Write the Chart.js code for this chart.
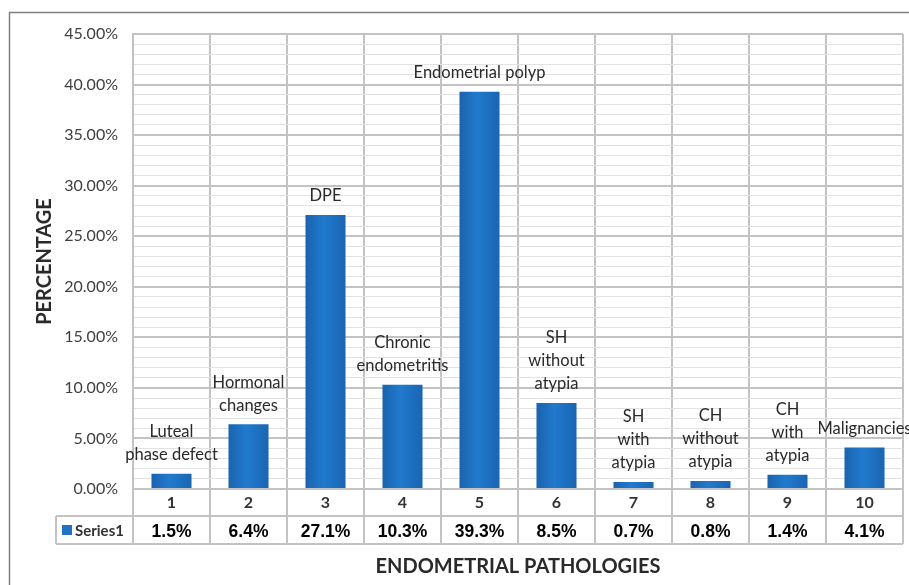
<!DOCTYPE html>
<html>
<head>
<meta charset="utf-8">
<script src="https://cdn.jsdelivr.net/npm/chart.js@4/dist/chart.umd.min.js"></script>
<style>
  html, body { margin: 0; padding: 0; background: #fff; }
  canvas { display: block; }
</style>
</head>
<body>
<canvas id="pathChart" width="909" height="585"></canvas>
<script>
// categories shown on the x axis and in the data table
const categories = ['1', '2', '3', '4', '5', '6', '7', '8', '9', '10'];
// percentage of cases per pathology
const percentages = [1.5, 6.4, 27.1, 10.3, 39.3, 8.5, 0.7, 0.8, 1.4, 4.1];
// text shown above each bar (one entry per line)
const barNames = [
    ['Luteal', 'phase defect'],
    ['Hormonal', 'changes'],
    ['DPE'],
    ['Chronic', 'endometritis'],
    ['Endometrial polyp'],
    ['SH', 'without', 'atypia'],
    ['SH', 'with', 'atypia'],
    ['CH', 'without', 'atypia'],
    ['CH', 'with', 'atypia'],
    ['Malignancies']
];
const seriesName = 'Series1';
const yMax = 45;
const yMajorStep = 5;

const barColor = '#1f72c4';
const barPct = 0.52;
const gridMajor = '#c3c3c3';
const gridMinor = '#e2e2e2';
const textColor = '#404040';

// soft horizontal shading on every bar, like the original
function barFill(context) {
    const chart = context.chart;
    const x = chart.scales.x;
    if (!chart.chartArea || !x || context.dataIndex === undefined) return barColor;
    const cx = x.getPixelForValue(context.dataIndex);
    const half = (x.width / categories.length) * barPct / 2;
    if (!isFinite(cx) || !isFinite(half) || half <= 0) return barColor;
    const g = chart.ctx.createLinearGradient(cx - half, 0, cx + half, 0);
    g.addColorStop(0, '#1a63ae');
    g.addColorStop(0.45, '#217ace');
    g.addColorStop(1, '#1a65b2');
    return g;
}

// frame around the whole figure
const framePlugin = {
    id: 'frame',
    afterDraw(chart) {
        const ctx = chart.ctx;
        ctx.save();
        ctx.strokeStyle = '#808080';
        ctx.lineWidth = 1.5;
        ctx.strokeRect(9.5, 12.5, 920, 600);
        ctx.restore();
    }
};

// names written above the bars
const barNamePlugin = {
    id: 'barNames',
    afterDatasetsDraw(chart) {
        const ctx = chart.ctx;
        const bars = chart.getDatasetMeta(0).data;
        ctx.save();
        ctx.font = '16.5px Lato';
        ctx.fillStyle = '#2a2a2a';
        ctx.textAlign = 'center';
        ctx.textBaseline = 'middle';
        bars.forEach((bar, i) => {
            const lines = barNames[i];
            const lineH = 23;
            const lastY = bar.y - 19;
            lines.forEach((txt, j) => {
                const y = lastY - (lines.length - 1 - j) * lineH;
                ctx.fillText(txt, bar.x, y);
            });
        });
        ctx.restore();
    }
};

// data table under the x axis
const dataTablePlugin = {
    id: 'dataTable',
    afterDraw(chart) {
        const ctx = chart.ctx;
        const x = chart.scales.x;
        const area = chart.chartArea;
        const colW = (x.right - x.left) / categories.length;
        const row1Top = area.bottom;
        const row2Top = row1Top + 27;
        const row2Bottom = row2Top + 28;
        const legendLeft = 56;

        ctx.save();
        ctx.strokeStyle = gridMajor;
        ctx.lineWidth = 2;
        ctx.beginPath();
        // horizontal lines
        ctx.moveTo(legendLeft, row2Top);
        ctx.lineTo(x.right, row2Top);
        ctx.moveTo(legendLeft, row2Bottom);
        ctx.lineTo(x.right, row2Bottom);
        // vertical lines
        for (let i = 0; i <= categories.length; i++) {
            const px = x.left + i * colW;
            ctx.moveTo(px, row1Top);
            ctx.lineTo(px, row2Bottom);
        }
        ctx.moveTo(legendLeft, row2Top);
        ctx.lineTo(legendLeft, row2Bottom);
        ctx.stroke();

        const midY = (row2Top + row2Bottom) / 2;
        // legend key
        ctx.fillStyle = barColor;
        ctx.fillRect(62, midY - 5, 10, 10);
        ctx.fillStyle = '#333';
        ctx.font = 'bold 15px Lato';
        ctx.textAlign = 'left';
        ctx.textBaseline = 'middle';
        ctx.fillText(seriesName, 75, midY + 1);

        // values
        ctx.fillStyle = '#000';
        ctx.font = 'bold 17.5px "Liberation Sans"';
        ctx.textAlign = 'center';
        percentages.forEach((v, i) => {
            const cx = x.getPixelForValue(i);
            ctx.fillText(v.toFixed(1) + '%', cx, midY + 2);
        });
        ctx.restore();
    }
};

const ctx = document.getElementById('pathChart').getContext('2d');

new Chart(ctx, {
    type: 'bar',
    data: {
        labels: categories,
        datasets: [{
            label: seriesName,
            data: percentages,
            backgroundColor: barFill,
            borderWidth: 0,
            categoryPercentage: 1,
            barPercentage: barPct
        }]
    },
    options: {
        responsive: false,
        animation: false,
        layout: {
            padding: { top: 34, right: 6, bottom: 0, left: 0 }
        },
        scales: {
            x: {
                afterFit(scale) { scale.height = 96; },
                grid: {
                    offset: true,
                    color: gridMajor,
                    lineWidth: 2,
                    drawTicks: false
                },
                border: { display: false },
                ticks: {
                    color: '#333',
                    padding: 4,
                    maxRotation: 0,
                    font: { family: 'Lato', size: 16, weight: 'bold' }
                },
                title: {
                    display: true,
                    text: 'ENDOMETRIAL PATHOLOGIES',
                    color: '#2a2a2a',
                    padding: { top: 0, bottom: 6 },
                    font: { family: 'Lato', size: 20, weight: 'bold' }
                }
            },
            y: {
                min: 0,
                max: yMax,
                afterFit(scale) { scale.width = 133; },
                grid: {
                    drawTicks: false,
                    color: c => (c.tick && c.tick.value % yMajorStep === 0) ? gridMajor : gridMinor,
                    lineWidth: c => (c.tick && c.tick.value % yMajorStep === 0) ? 2 : 1
                },
                border: { color: gridMajor, width: 2 },
                ticks: {
                    stepSize: 1,
                    autoSkip: false,
                    padding: 15,
                    color: textColor,
                    font: { family: 'Lato', size: 16 },
                    callback: v => (v % yMajorStep === 0) ? v.toFixed(2) + '%' : ''
                },
                title: {
                    display: true,
                    text: 'PERCENTAGE',
                    color: '#2a2a2a',
                    padding: { top: 33, bottom: 0 },
                    font: { family: 'Lato', size: 20, weight: 'bold' }
                }
            }
        },
        plugins: {
            legend: { display: false },
            tooltip: { enabled: false }
        }
    },
    plugins: [barNamePlugin, dataTablePlugin, framePlugin]
});
</script>
</body>
</html>
